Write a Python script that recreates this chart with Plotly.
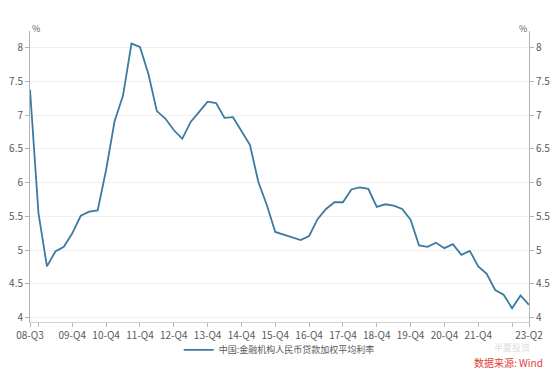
import plotly.graph_objects as go

quarters = [f"{y:02d}-Q{q}" for y in range(8, 24) for q in range(1, 5)]
quarters = quarters[quarters.index("08-Q3"):quarters.index("23-Q2") + 1]

rate = [7.38, 5.55, 4.76, 4.98, 5.05, 5.25, 5.51, 5.57, 5.59, 6.19,
        6.91, 7.29, 8.06, 8.01, 7.61, 7.06, 6.95, 6.78, 6.65, 6.90,
        7.05, 7.20, 7.18, 6.96, 6.97, 6.77, 6.56, 6.01, 5.67, 5.27,
        5.23, 5.19, 5.15, 5.21, 5.46, 5.61, 5.71, 5.71, 5.90, 5.93,
        5.91, 5.64, 5.68, 5.66, 5.61, 5.45, 5.07, 5.05, 5.11, 5.03,
        5.09, 4.93, 4.99, 4.76, 4.65, 4.41, 4.34, 4.14, 4.33, 4.19]

series_name = "中国:金融机构人民币贷款加权平均利率"

x_tick_vals = ["08-Q3", "08-Q4", "09-Q4", "10-Q4", "11-Q4", "12-Q4", "13-Q4", "14-Q4",
               "15-Q4", "16-Q4", "17-Q4", "18-Q4", "19-Q4", "20-Q4", "21-Q4", "22-Q4", "23-Q2"]
x_tick_text = ["08-Q3", "", "09-Q4", "10-Q4", "11-Q4", "12-Q4", "13-Q4", "14-Q4",
               "15-Q4", "16-Q4", "17-Q4", "18-Q4", "19-Q4", "20-Q4", "21-Q4", "", "23-Q2"]
y_tick_vals = [4, 4.5, 5, 5.5, 6, 6.5, 7, 7.5, 8]
y_tick_text = ["4", "4.5", "5", "5.5", "6", "6.5", "7", "7.5", "8"]

FONT = "Noto Sans CJK SC, Noto Sans, sans-serif"
GRAY = "#595959"
AXIS = "#b4b4b4"
YR = [3.936, 8.247]

fig = go.Figure()
fig.add_trace(go.Scatter(x=quarters, y=rate, mode="lines", name=series_name,
                         line=dict(color="#3d7aa1", width=1.8)))
# same series on the right-hand axis (hidden) so that axis is drawn
fig.add_trace(go.Scatter(x=quarters, y=rate, mode="lines", yaxis="y2", showlegend=False,
                         hoverinfo="skip", opacity=0, line=dict(color="#3d7aa1", width=1.8)))

fig.update_layout(
    width=554, height=373,
    margin=dict(l=30, r=25, t=31, b=51, autoexpand=False),
    paper_bgcolor="white", plot_bgcolor="white",
    font=dict(family=FONT, size=10, color=GRAY),
    showlegend=True,
    legend=dict(orientation="h", x=0.298, xanchor="left", y=-0.096, yanchor="middle",
                font=dict(size=9, color=GRAY), bgcolor="rgba(0,0,0,0)"),
    xaxis=dict(type="category", range=[0, len(quarters) - 1], automargin=False,
               tickmode="array", tickvals=x_tick_vals, ticktext=x_tick_text,
               ticks="outside", ticklen=4, tickcolor=AXIS, showgrid=False,
               showline=True, linecolor="#d0d0d0", linewidth=1,
               tickfont=dict(size=10, color=GRAY), zeroline=False),
    yaxis=dict(range=YR, tickmode="array", tickvals=y_tick_vals, ticktext=y_tick_text,
               automargin=False, ticks="outside", ticklen=4, tickcolor=AXIS,
               showline=True, linecolor=AXIS, linewidth=1,
               showgrid=True, gridcolor="#efefef", gridwidth=1, zeroline=False,
               tickfont=dict(size=10, color=GRAY)),
    yaxis2=dict(range=YR, overlaying="y", side="right", tickmode="array",
                tickvals=y_tick_vals, ticktext=y_tick_text, automargin=False,
                ticks="outside", ticklen=4, tickcolor=AXIS,
                showline=True, linecolor=AXIS, linewidth=1,
                showgrid=False, zeroline=False, tickfont=dict(size=10, color=GRAY)),
)

fig.add_annotation(text="%", xref="paper", yref="paper", x=0, y=1, yshift=11,
                   showarrow=False, font=dict(size=9, color=GRAY))
fig.add_annotation(text="%", xref="paper", yref="paper", x=1, y=1, yshift=11,
                   showarrow=False, font=dict(size=9, color=GRAY))
fig.add_annotation(text="半夏投资", xref="paper", yref="paper", x=0.966, y=-0.088,
                   xanchor="center", yanchor="middle", showarrow=False, borderpad=0,
                   font=dict(size=9, color="#dcdcdc"))
fig.add_annotation(text="数据来源: Wind", xref="paper", yref="paper", x=1.030, y=-0.14,
                   xanchor="right", yanchor="middle", showarrow=False, borderpad=0,
                   font=dict(size=10, color="#e0403a"))

fig.write_html("out.html", config={"displayModeBar": False},
               post_script="document.body.style.margin='0';")
